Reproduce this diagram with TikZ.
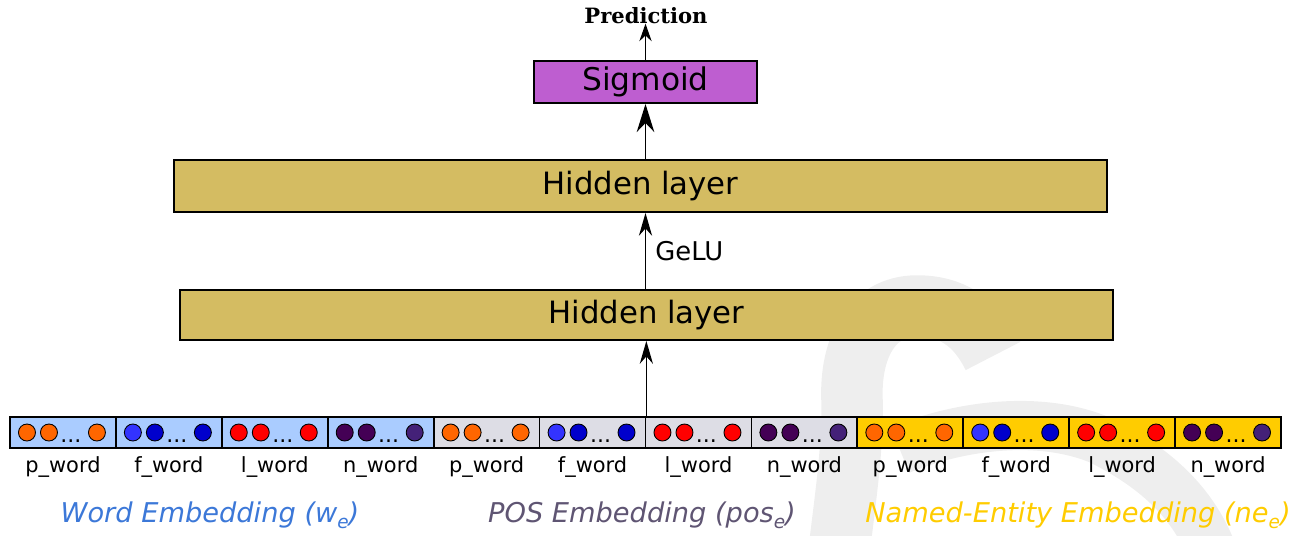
\documentclass[tikz,border=0pt]{standalone}
\usepackage{fontspec}
\setmainfont{DejaVu Sans}
\newfontfamily\predfont{DejaVu Serif}
\usetikzlibrary{shapes,arrows.meta}

\definecolor{wordblue}{HTML}{AACCFF}
\definecolor{posgray}{HTML}{DDDDE5}
\definecolor{negold}{HTML}{FFCC00}
\definecolor{hiddengold}{HTML}{D4BC62}
\definecolor{sigpurple}{HTML}{BE5ED0}
\definecolor{dotorange}{HTML}{FF6600}
\definecolor{dotblueA}{HTML}{3333FF}
\definecolor{dotblueB}{HTML}{0000CC}
\definecolor{dotred}{HTML}{FF0000}
\definecolor{dotpurple}{HTML}{440055}
\definecolor{dotpurpleB}{HTML}{442178}
\definecolor{wordtext}{HTML}{3C78D8}
\definecolor{postext}{HTML}{5F5573}
\definecolor{marktext}{HTML}{EEEEEE}

\newcommand{\lowsub}[1]{\raisebox{-0.45ex}{\fontsize{10.5}{10.5}\selectfont #1}}

\tikzset{
  layer/.style={draw, line width=1.1pt, minimum width=18.66cm, inner sep=0pt,
    font=\fontsize{17.5}{20}\selectfont},
  cell/.style={draw, line width=1pt, minimum width=2.118cm, minimum height=0.62cm, inner sep=0pt},
  unit/.style={circle, draw, line width=0.5pt, minimum size=0.34cm, inner sep=0pt},
  wlabel/.style={font=\fontsize{11.9}{13}\selectfont, anchor=base, inner sep=0pt},
  emblabel/.style={font=\fontsize{15.5}{18}\selectfont\itshape, anchor=base, inner sep=0pt},
  arr/.style={-{Stealth[length=13pt,width=7.5pt]}, line width=0.75pt},
  bigarr/.style={-{Stealth[length=16pt,width=10pt]}, line width=0.75pt},
  smallarr/.style={-{Stealth[length=10pt,width=7pt]}, line width=0.75pt}
}

\begin{document}
\begin{tikzpicture}[x=0.02cm, y=-0.02cm]

  \useasboundingbox (0,0) rectangle (1309,535);

  % watermark in the background
  \draw [marktext, line width=35pt] (993,356) .. controls (975,320) and (950,306) .. (917,306)
    .. controls (870,306) and (850,350) .. (852,400) .. controls (853,450) and (845,500) .. (838,560);
  \draw [marktext, line width=28pt] (900,450) .. controls (960,425) and (1040,415) .. (1100,440)
    .. controls (1150,465) and (1195,500) .. (1215,560);

  \node [font=\predfont\bfseries\fontsize{12}{13}\selectfont, anchor=base, inner sep=0pt] (pred) at (646,23) {Prediction};
  \node [draw, line width=1.1pt, fill=sigpurple, minimum width=4.46cm, minimum height=0.84cm,
    font=\fontsize{17.8}{20}\selectfont] (sigm) at (645.5,82) {Sigmoid};
  \node [layer, fill=hiddengold, minimum height=1.04cm] (hid2) at (640.5,186) {Hidden layer};
  \node [layer, fill=hiddengold, minimum height=1.0cm] (hid1) at (646.5,315) {Hidden layer};

  % embedding cells
  \foreach \g/\col in {0/wordblue,1/posgray,2/negold}
    \foreach \k/\lab/\ca/\cb/\cc in {0/p\_word/dotorange/dotorange/dotorange,
                                     1/f\_word/dotblueA/dotblueB/dotblueB,
                                     2/l\_word/dotred/dotred/dotred,
                                     3/n\_word/dotpurple/dotpurple/dotpurpleB} {
      \pgfmathsetmacro\n{int(4*\g+\k)}
      \pgfmathsetmacro\cx{10+105.917*(\n+0.5)}
      \node [cell, fill=\col] (e\n) at (\cx,432.5) {};
      \node [unit, fill=\ca] (e\n a) at ([xshift=-0.72cm]e\n.center) {};
      \node [unit, fill=\cb] (e\n b) at ([xshift=-0.28cm]e\n.center) {};
      \node [unit, fill=\cc] (e\n c) at ([xshift=0.68cm]e\n.center) {};
      \node [font=\fontsize{12.5}{12}\selectfont, anchor=base, inner sep=0pt] (e\n d)
        at ([xshift=0.16cm,yshift=-0.19cm]e\n.center) {...};
      \node [wlabel] (l\n) at ([yshift=-0.79cm]e\n.center) {\lab};
    }

  \node [emblabel, text=wordtext] (wemb) at (210,522) {Word Embedding (w\lowsub{e})};
  \node [emblabel, text=postext] (pemb) at (642,522) {POS Embedding (pos\lowsub{e})};
  \node [emblabel, text=negold] (nemb) at (1078,522) {Named-Entity Embedding (ne\lowsub{e})};

  \node [font=\fontsize{14.7}{16}\selectfont, anchor=base west, inner sep=0pt] (gelu) at (655,260) {GeLU};

  \draw [arr] (e5.north east) -- (e5.north east |- hid1.south);
  \draw [arr] (hid1.north -| sigm.south) -- (hid2.south -| sigm.south);
  \draw [bigarr] (hid2.north -| sigm.south) -- (sigm.south);
  \draw [smallarr] (sigm.north) -- (sigm.north |- pred.south);

\end{tikzpicture}
\end{document}
